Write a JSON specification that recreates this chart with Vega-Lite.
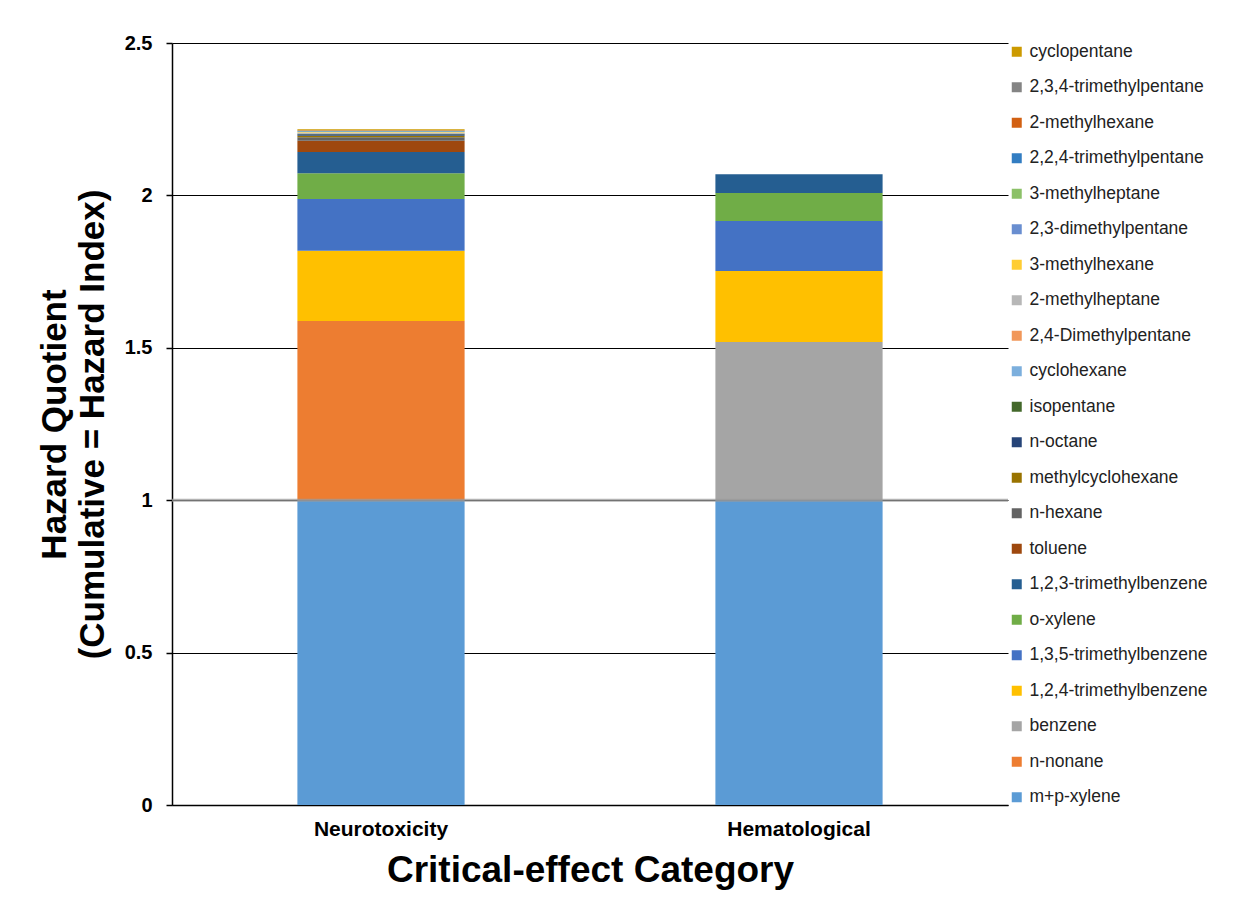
{
  "$schema": "https://vega.github.io/schema/vega-lite/v6.json",
  "width": 836,
  "height": 762,
  "autosize": "none",
  "padding": {"left": 172, "top": 43, "right": 241, "bottom": 106},
  "background": "white",
  "config": {
    "font": "Liberation Sans, Arial, sans-serif",
    "view": {"stroke": null}
  },
  "layer": [
    {
      "data": {
        "values": [
          {"category": "Neurotoxicity", "chemical": "m+p-xylene", "rank": 1, "hq": 1.0},
          {"category": "Neurotoxicity", "chemical": "n-nonane", "rank": 2, "hq": 0.588},
          {"category": "Neurotoxicity", "chemical": "1,2,4-trimethylbenzene", "rank": 4, "hq": 0.23},
          {"category": "Neurotoxicity", "chemical": "1,3,5-trimethylbenzene", "rank": 5, "hq": 0.17},
          {"category": "Neurotoxicity", "chemical": "o-xylene", "rank": 6, "hq": 0.085},
          {"category": "Neurotoxicity", "chemical": "1,2,3-trimethylbenzene", "rank": 7, "hq": 0.069},
          {"category": "Neurotoxicity", "chemical": "toluene", "rank": 8, "hq": 0.037},
          {"category": "Neurotoxicity", "chemical": "n-hexane", "rank": 9, "hq": 0.012},
          {"category": "Neurotoxicity", "chemical": "methylcyclohexane", "rank": 10, "hq": 0.005},
          {"category": "Neurotoxicity", "chemical": "n-octane", "rank": 11, "hq": 0.005},
          {"category": "Neurotoxicity", "chemical": "isopentane", "rank": 12, "hq": 0.001},
          {"category": "Neurotoxicity", "chemical": "cyclohexane", "rank": 13, "hq": 0.002},
          {"category": "Neurotoxicity", "chemical": "2,4-Dimethylpentane", "rank": 14, "hq": 0.001},
          {"category": "Neurotoxicity", "chemical": "2-methylheptane", "rank": 15, "hq": 0.001},
          {"category": "Neurotoxicity", "chemical": "3-methylhexane", "rank": 16, "hq": 0.002},
          {"category": "Neurotoxicity", "chemical": "2,3-dimethylpentane", "rank": 17, "hq": 0.001},
          {"category": "Neurotoxicity", "chemical": "3-methylheptane", "rank": 18, "hq": 0.001},
          {"category": "Neurotoxicity", "chemical": "2,2,4-trimethylpentane", "rank": 19, "hq": 0.001},
          {"category": "Neurotoxicity", "chemical": "2-methylhexane", "rank": 20, "hq": 0.002},
          {"category": "Neurotoxicity", "chemical": "2,3,4-trimethylpentane", "rank": 21, "hq": 0.001},
          {"category": "Neurotoxicity", "chemical": "cyclopentane", "rank": 22, "hq": 0.003},
          {"category": "Hematological", "chemical": "m+p-xylene", "rank": 1, "hq": 1.0},
          {"category": "Hematological", "chemical": "benzene", "rank": 3, "hq": 0.519},
          {"category": "Hematological", "chemical": "1,2,4-trimethylbenzene", "rank": 4, "hq": 0.233},
          {"category": "Hematological", "chemical": "1,3,5-trimethylbenzene", "rank": 5, "hq": 0.164},
          {"category": "Hematological", "chemical": "o-xylene", "rank": 6, "hq": 0.092},
          {"category": "Hematological", "chemical": "1,2,3-trimethylbenzene", "rank": 7, "hq": 0.061}
        ]
      },
      "mark": {"type": "bar"},
      "encoding": {
        "x": {
          "field": "category",
          "type": "nominal",
          "sort": ["Neurotoxicity", "Hematological"],
          "scale": {"paddingInner": 0.6, "paddingOuter": 0.3},
          "axis": {
            "title": "Critical-effect Category",
            "titleFontSize": 37,
            "titleFontWeight": "bold",
            "titleColor": "black",
            "titlePadding": 13,
            "labelAngle": 0,
            "labelFontSize": 21,
            "labelFontWeight": "bold",
            "labelColor": "black",
            "labelPadding": 13,
            "ticks": false,
            "domainColor": "black",
            "domainWidth": 1.5
          }
        },
        "y": {
          "field": "hq",
          "type": "quantitative",
          "stack": "zero",
          "scale": {"domain": [0, 2.5], "nice": false},
          "axis": {
            "title": ["Hazard Quotient", "(Cumulative = Hazard Index)"],
            "titleFontSize": 35,
            "titleFontWeight": "bold",
            "titleColor": "black",
            "titleLineHeight": 38,
            "titleAngle": 270,
            "titleBaseline": "bottom",
            "titleX": -100,
            "titleY": 381,
            "values": [0, 0.5, 1, 1.5, 2, 2.5],
            "format": "~g",
            "labelFontSize": 20,
            "labelFontWeight": "bold",
            "labelColor": "black",
            "labelPadding": 14,
            "tickSize": 6,
            "tickColor": "black",
            "tickWidth": 1.5,
            "domainColor": "black",
            "domainWidth": 1.5,
            "grid": true,
            "gridColor": "black",
            "gridWidth": 1.2
          }
        },
        "color": {
          "field": "chemical",
          "type": "nominal",
          "scale": {
            "domain": ["cyclopentane", "2,3,4-trimethylpentane", "2-methylhexane", "2,2,4-trimethylpentane", "3-methylheptane", "2,3-dimethylpentane", "3-methylhexane", "2-methylheptane", "2,4-Dimethylpentane", "cyclohexane", "isopentane", "n-octane", "methylcyclohexane", "n-hexane", "toluene", "1,2,3-trimethylbenzene", "o-xylene", "1,3,5-trimethylbenzene", "1,2,4-trimethylbenzene", "benzene", "n-nonane", "m+p-xylene"],
            "range": ["#CC9A00", "#848484", "#D26012", "#327DC2", "#8CC168", "#698ED0", "#FFCD33", "#B7B7B7", "#F1975A", "#7CAFDD", "#43682B", "#264478", "#997300", "#636363", "#9E480E", "#255E91", "#70AD47", "#4472C4", "#FFC000", "#A5A5A5", "#ED7D31", "#5B9BD5"]
          },
          "legend": {
            "title": null,
            "orient": "right",
            "offset": 0,
            "padding": 0,
            "symbolType": "square",
            "symbolSize": 100,
            "symbolStrokeWidth": 0,
            "labelFontSize": 17.5,
            "labelColor": "#222222",
            "labelOffset": 4,
            "labelLimit": 300,
            "rowPadding": 16.5
          }
        },
        "order": {"field": "rank", "type": "quantitative", "sort": "ascending"}
      }
    },
    {
      "data": {"values": [{"hi": 1}]},
      "mark": {"type": "rule", "color": "#9a9a9a", "strokeWidth": 3, "opacity": 0.75},
      "encoding": {
        "y": {"field": "hi", "type": "quantitative"}
      }
    }
  ]
}
